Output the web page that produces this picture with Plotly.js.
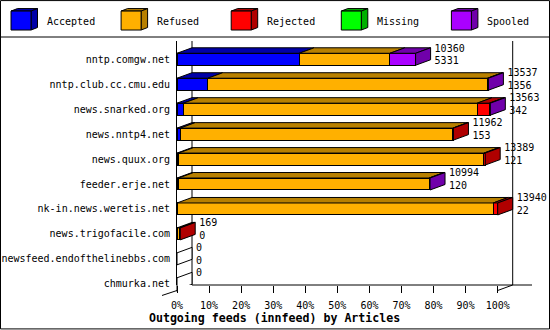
<!DOCTYPE html>
<html>
<head>
<meta charset="utf-8">
<script src="https://cdn.plot.ly/plotly-3.0.1.min.js"></script>
<style>html,body{margin:0;padding:0;background:#fff}#chart{width:550px;height:330px}</style>
</head>
<body>
<div id="chart"></div>
<script>
// ---- data ----
const hosts = ["nntp.comgw.net","nntp.club.cc.cmu.edu","news.snarked.org","news.nntp4.net","news.quux.org","feeder.erje.net","nk-in.news.weretis.net","news.trigofacile.com","newsfeed.endofthelinebbs.com","chmurka.net"];
const seriesNames = ["Accepted","Refused","Rejected","Missing","Spooled"];
const accepted = [38.1, 9.6, 2.0, 1.0, 0.5, 0.5, 0.0, 0.0, 0, 0];
const refused  = [28.3, 87.2, 91.6, 85.0, 95.2, 78.1, 98.6, 0.7, 0, 0];
const rejected = [0, 0, 3.8, 0.2, 0.4, 0, 1.4, 0.3, 0, 0];
const missing  = [0, 0, 0, 0, 0, 0, 0, 0, 0, 0];
const spooled  = [8.0, 0.3, 0.3, 0, 0, 0.3, 0, 0, 0, 0];
const offered  = [10360, 13537, 13563, 11962, 13389, 10994, 13940, 169, 0, 0];
const acceptedCount = [5331, 1356, 342, 153, 121, 120, 22, 0, 0, 0];
const xTicks = [0,10,20,30,40,50,60,70,80,90,100];
const xTickText = ["0%","10%","20%","30%","40%","50%","60%","70%","80%","90%","100%"];

// ---- style ----
const frontColors = ["#0000ff","#ffb000","#ff0000","#00ff00","#aa00ff"];
const darkColors  = ["#0000a8","#b88000","#b00000","#00b000","#7000aa"];
const FONT = "DejaVu Sans Mono";
const W = 550, H = 330;
const PL = 177, PR = 532, PT = 41, PB = 285.5;
const PX_PER_PCT = 3.207;
const ROW_PX = 25, ROW0 = 59.3;
const XMAX = (PR - PL) / PX_PER_PCT;
const YTOP = -(ROW0 - PT) / ROW_PX;
const YBOT = (PB - ROW0) / ROW_PX;
const DEPTH_X = 15 / PX_PER_PCT;   // 3d depth in value units
const DEPTH_Y = 5.5 / ROW_PX;      // 3d rise in row units
const HALF = 6 / ROW_PX;           // half bar height

const series = [accepted, refused, rejected, missing, spooled];
const traces = [];

// front faces
series.forEach((vals, s) => {
  traces.push({
    type: "bar", orientation: "h", name: seriesNames[s],
    x: vals, y: hosts.map((_, i) => i), width: 2 * HALF,
    marker: {color: frontColors[s], line: {color: "#000", width: 1}},
    hoverinfo: "skip", showlegend: false
  });
});

// top faces and side faces
const topX = series.map(() => []), topY = series.map(() => []);
const sideX = series.map(() => []), sideY = series.map(() => []);
const emptyX = [], emptyY = [];
hosts.forEach((h, i) => {
  let a = 0, last = -1, end = 0;
  const yft = i - HALF, yfb = i + HALF;
  series.forEach((vals, s) => {
    const v = vals[i];
    if (v > 0) {
      const b = a + v;
      topX[s].push(a, b, b + DEPTH_X, a + DEPTH_X, a, null);
      topY[s].push(yft, yft, yft - DEPTH_Y, yft - DEPTH_Y, yft, null);
      last = s; end = b; a = b;
    }
  });
  const sx = [end, end + DEPTH_X, end + DEPTH_X, end, end, null];
  const sy = [yft, yft - DEPTH_Y, yfb - DEPTH_Y, yfb, yft, null];
  if (last >= 0) { sideX[last].push(...sx); sideY[last].push(...sy); }
  else { emptyX.push(...sx); emptyY.push(...sy); }
});
series.forEach((_, s) => {
  if (topX[s].length) traces.push({type: "scatter", mode: "lines", x: topX[s], y: topY[s], fill: "toself",
    fillcolor: darkColors[s], line: {color: "#000", width: 1}, hoverinfo: "skip", showlegend: false});
  if (sideX[s].length) traces.push({type: "scatter", mode: "lines", x: sideX[s], y: sideY[s], fill: "toself",
    fillcolor: darkColors[s], line: {color: "#000", width: 1}, hoverinfo: "skip", showlegend: false});
});
if (emptyX.length) traces.push({type: "scatter", mode: "lines", x: emptyX, y: emptyY, fill: "toself",
  fillcolor: "#fff", line: {color: "#000", width: 1}, hoverinfo: "skip", showlegend: false});

// value labels
const totals = hosts.map((_, i) => series.reduce((t, vals) => t + vals[i], 0));
const labelX = totals.map(t => t + DEPTH_X + 4 / PX_PER_PCT);
traces.push({type: "scatter", mode: "text", x: labelX, y: hosts.map((_, i) => i - 0.41),
  text: offered.map(String), textposition: "middle right", cliponaxis: false,
  textfont: {family: FONT, size: 10, color: "#000"}, hoverinfo: "skip", showlegend: false});
traces.push({type: "scatter", mode: "text", x: labelX, y: hosts.map((_, i) => i + 0.09),
  text: acceptedCount.map(String), textposition: "middle right", cliponaxis: false,
  textfont: {family: FONT, size: 10, color: "#000"}, hoverinfo: "skip", showlegend: false});

// ---- frame & legend (pixel helpers) ----
const px = v => (v - PL) / (PR - PL);
const py = v => (PB - v) / (PB - PT);
const shapes = [];
const annotations = [];
const pline = (x0, y0, x1, y1) => shapes.push({type: "line", xref: "paper", yref: "paper",
  x0: px(x0), y0: py(y0), x1: px(x1), y1: py(y1), line: {color: "#000", width: 1}});
// outer border and legend separator
shapes.push({type: "rect", xref: "paper", yref: "paper", x0: px(0.5), y0: py(0.5), x1: px(549.5), y1: py(329.5),
  line: {color: "#000", width: 1}, fillcolor: "rgba(0,0,0,0)"});
pline(0.5, 37, 549.5, 37);
// 3d walls
const xBackRight = PL + 100 * PX_PER_PCT + 15;
shapes.push({type: "line", xref: "x", yref: "paper", x0: DEPTH_X, x1: DEPTH_X, y0: 0, y1: 1, layer: "below", line: {color: "#000", width: 1}});
shapes.push({type: "line", xref: "x", yref: "paper", x0: 100 + DEPTH_X, x1: 100 + DEPTH_X, y0: 0, y1: 1, layer: "below", line: {color: "#000", width: 1}});
shapes.push({type: "line", xref: "x", yref: "paper", x0: DEPTH_X, x1: XMAX, y0: 0, y1: 0, line: {color: "#000", width: 1}});
pline(PL - 15, 296, PL, 291);
pline(PL + 100 * PX_PER_PCT, 291, xBackRight, PB);
pline(PL, PB, PL, 292);
// legend cubes
seriesNames.forEach((n, s) => {
  const lx = 11 + s * 110.1, ty = 11, by = 30, wx = 20, dx = 6.5, dy = 2.5;
  const P = (x, y) => px(x) + "," + py(y);
  shapes.push({type: "path", xref: "paper", yref: "paper", fillcolor: darkColors[s], line: {color: "#000", width: 1},
    path: "M" + P(lx, ty) + "L" + P(lx + dx, ty - dy) + "L" + P(lx + wx + dx, ty - dy) + "L" + P(lx + wx, ty) + "Z"});
  shapes.push({type: "path", xref: "paper", yref: "paper", fillcolor: darkColors[s], line: {color: "#000", width: 1},
    path: "M" + P(lx + wx, ty) + "L" + P(lx + wx + dx, ty - dy) + "L" + P(lx + wx + dx, by - dy) + "L" + P(lx + wx, by) + "Z"});
  shapes.push({type: "rect", xref: "paper", yref: "paper", x0: px(lx), x1: px(lx + wx), y0: py(ty), y1: py(by),
    fillcolor: frontColors[s], line: {color: "#000", width: 1}});
  annotations.push({xref: "paper", yref: "paper", x: px(lx + 33.6), y: py(21), xanchor: "left", yanchor: "middle",
    text: n, showarrow: false, font: {family: FONT, size: 10, color: "#000"}});
});

const layout = {
  width: W, height: H,
  margin: {l: PL, r: W - PR, t: PT, b: H - PB, pad: 0},
  paper_bgcolor: "#fff", plot_bgcolor: "#fff",
  barmode: "stack", showlegend: false,
  font: {family: FONT, size: 10, color: "#000"},
  title: {text: "<b>Outgoing feeds (innfeed) by Articles</b>", x: 274.6 / W, xanchor: "center",
    xref: "container", yref: "container", y: 1 - 318 / H, yanchor: "middle",
    font: {family: FONT, size: 11.6, color: "#000"}},
  xaxis: {range: [0, XMAX], tickvals: xTicks, ticktext: xTickText, ticks: "outside", ticklen: 6.5,
    tickcolor: "#000", tickwidth: 1, showgrid: false, zeroline: false, showline: false,
    ticklabelstandoff: 4, tickfont: {family: FONT, size: 10, color: "#000"}, fixedrange: true},
  yaxis: {range: [YBOT, YTOP], tickvals: hosts.map((_, i) => i), ticktext: hosts, ticks: "",
    showgrid: false, zeroline: false, showline: true, linecolor: "#000", linewidth: 1,
    ticklabelstandoff: 4, tickfont: {family: FONT, size: 10, color: "#000"}, fixedrange: true},
  shapes: shapes, annotations: annotations
};
Plotly.newPlot("chart", traces, layout, {staticPlot: true, displayModeBar: false});
</script>
</body>
</html>
